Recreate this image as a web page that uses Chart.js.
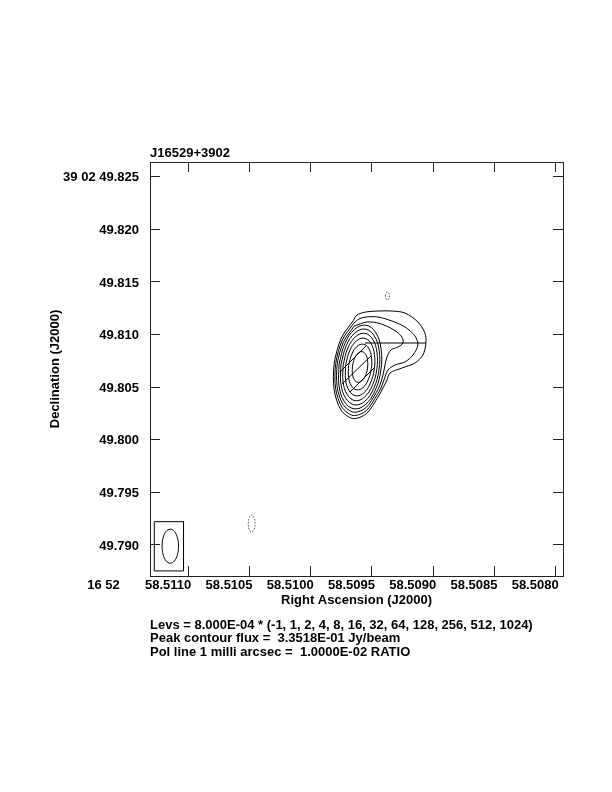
<!DOCTYPE html>
<html>
<head>
<meta charset="utf-8">
<title>J16529+3902</title>
<script src="https://cdn.jsdelivr.net/npm/chart.js@4.4.1/dist/chart.umd.min.js"></script>
<style>
  html, body { margin: 0; padding: 0; background: #fff; }
  #wrap { width: 612px; height: 792px; }
</style>
</head>
<body>
<div id="wrap"><canvas id="map" width="612" height="792"></canvas></div>
<script>
// Map reference position (RA seconds of 16h52m, Dec arcsec of +39d02m)
const refRA = 58.509598;
const refDec = 49.806916;
const decDeg = 39 + 2 / 60 + 49.8 / 3600;

const raMin = 58.507940;
const raMax = 58.511313;
const decMin = 49.787054;
const decMax = 49.826397;

const raTicks = [58.5110, 58.5105, 58.5100, 58.5095, 58.5090, 58.5085, 58.5080];
const raLabels = ['16 52       58.5110', '58.5105', '58.5100', '58.5095', '58.5090', '58.5085', '58.5080'];
const decTicks = [49.790, 49.795, 49.800, 49.805, 49.810, 49.815, 49.820, 49.825];
const decLabels = ['49.790', '49.795', '49.800', '49.805', '49.810', '49.815', '49.820', '39 02 49.825'];

const sourceName = 'J16529+3902';
const levelBase = '8.000E-04';
const levelMults = [-1, 1, 2, 4, 8, 16, 32, 64, 128, 256, 512, 1024];
const peakFlux = '3.3518E-01';
const polScale = '1.0000E-02';

// Contours as [east offset mas, north offset mas] from the reference position
const cntr1 = [[0.63, 4.42], [1.78, 2.75], [2.45, 0.34], [2.46, -2.16], [1.82, -4.07], [0.69, -4.90],
  [-0.63, -4.42], [-1.78, -2.75], [-2.19, -1.99], [-2.57, -1.24], [-2.85, -0.57], [-3.99, -0.10],
  [-5.23, 0.38], [-5.99, 1.14], [-6.27, 2.28], [-6.18, 3.23], [-5.51, 4.28], [-4.28, 5.13],
  [-3.04, 5.32], [-1.71, 5.32], [-0.57, 5.23], [0.29, 4.94]];
const cntr2 = [[0.59, 4.16], [1.67, 2.59], [2.31, 0.32], [2.32, -2.03], [1.71, -3.83], [0.65, -4.61],
  [-0.59, -4.16], [-1.67, -2.59], [-2.00, -1.99], [-2.28, -1.24], [-2.66, -0.29], [-3.33, 0.19],
  [-4.28, 0.48], [-5.04, 1.14], [-5.51, 2.09], [-5.23, 2.95], [-4.28, 3.80], [-3.04, 4.37],
  [-1.71, 4.75], [-0.57, 4.75], [0.10, 4.56]];
const cntr4 = [[0.56, 3.88], [1.56, 2.41], [2.16, 0.30], [2.17, -1.89], [1.60, -3.57], [0.60, -4.30],
  [-0.56, -3.88], [-1.56, -2.41], [-1.90, -1.71], [-2.19, -0.76], [-2.38, 0.19], [-2.57, 0.95],
  [-2.95, 1.62], [-3.61, 1.90], [-4.09, 2.28], [-3.99, 2.85], [-3.23, 3.52], [-1.90, 4.13], [-0.67, 4.28]];
const cntr8 = [[1.99, 0.28], [2.00, -1.74], [1.48, -3.30], [0.56, -3.97], [-0.51, -3.58], [-1.44, -2.23],
  [-1.99, -0.28], [-2.00, 1.74], [-1.48, 3.30], [-0.56, 3.97], [0.51, 3.58], [1.44, 2.23]];
const cntr16 = [[1.81, 0.25], [1.82, -1.58], [1.34, -2.99], [0.51, -3.60], [-0.47, -3.25], [-1.31, -2.02],
  [-1.81, -0.25], [-1.82, 1.58], [-1.34, 2.99], [-0.51, 3.60], [0.47, 3.25], [1.31, 2.02]];
const cntr32 = [[1.60, 0.22], [1.61, -1.41], [1.19, -2.66], [0.45, -3.20], [-0.41, -2.88], [-1.16, -1.79],
  [-1.60, -0.22], [-1.61, 1.41], [-1.19, 2.66], [-0.45, 3.20], [0.41, 2.88], [1.16, 1.79]];
const cntr64 = [[1.36, 0.19], [1.37, -1.20], [1.02, -2.28], [0.38, -2.74], [-0.35, -2.47], [-0.99, -1.53],
  [-1.36, -0.19], [-1.37, 1.20], [-1.02, 2.28], [-0.38, 2.74], [0.35, 2.47], [0.99, 1.53]];
const cntr128 = [[1.08, 0.15], [1.09, -0.96], [0.81, -1.81], [0.31, -2.17], [-0.28, -1.96], [-0.78, -1.22],
  [-1.08, -0.15], [-1.09, 0.96], [-0.81, 1.81], [-0.31, 2.17], [0.28, 1.96], [0.78, 1.22]];
const cntr256 = [[0.72, 0.10], [0.72, -0.64], [0.54, -1.21], [0.21, -1.46], [-0.18, -1.31], [-0.52, -0.82],
  [-0.72, -0.10], [-0.72, 0.64], [-0.54, 1.21], [-0.21, 1.46], [0.18, 1.31], [0.52, 0.82]];

// Negative (-1) contours
const negA = [[-2.42, 6.75], [-2.48, 7.02], [-2.61, 7.13], [-2.74, 7.02], [-2.80, 6.75], [-2.74, 6.48], [-2.61, 6.37], [-2.48, 6.48]];
const negB = [[10.64, -14.87], [10.54, -14.30], [10.31, -14.06], [10.08, -14.30], [9.98, -14.87], [10.08, -15.44], [10.31, -15.68], [10.54, -15.44]];

// Polarisation vectors
const polVectors = [
  [[-0.48, 2.28], [-6.27, 2.28]],
  [[1.90, -0.48], [-0.57, 2.00]],
  [[1.71, -1.62], [-1.05, 1.05]],
  [[0.95, -2.38], [-1.43, 0.00]]
];

// Restoring beam and its box
const beam = [[18.84, -17.03], [18.73, -16.22], [18.45, -15.63], [18.05, -15.41], [17.66, -15.63], [17.37, -16.22],
  [17.26, -17.03], [17.37, -17.84], [17.66, -18.43], [18.05, -18.65], [18.45, -18.43], [18.73, -17.84]];
const beamBox = [[19.57, -14.70], [16.79, -14.70], [16.79, -19.38], [19.57, -19.38], [19.57, -14.70]];

const masPerSecRA = 15000 * Math.cos(decDeg * Math.PI / 180);
const toSky = pts => pts.map(p => ({ x: refRA + p[0] / masPerSecRA, y: refDec + p[1] / 1000 }));
const closeLoop = pts => pts.concat([pts[0]]);

const fontFamily = "'Liberation Sans', Arial, Helvetica, sans-serif";
const labelFont = { family: fontFamily, size: 13, weight: 'bold' };

function lineSet(pts, extra) {
  return Object.assign({
    data: toSky(pts),
    showLine: true,
    borderColor: '#000',
    borderWidth: 1,
    pointRadius: 0,
    fill: false,
    tension: 0
  }, extra || {});
}

const datasets = [];
[cntr1, cntr2, cntr4].forEach(c => datasets.push(lineSet(closeLoop(c), { tension: 0.3 })));
[cntr8, cntr16, cntr32, cntr64, cntr128, cntr256].forEach(c => datasets.push(lineSet(closeLoop(c), { tension: 0.4 })));
[negA, negB].forEach(c => datasets.push(lineSet(closeLoop(c), { tension: 0.4, borderColor: '#555', borderDash: [1.5, 1.5] })));
polVectors.forEach(v => datasets.push(lineSet(v)));
datasets.push(lineSet(closeLoop(beam), { tension: 0.4 }));
datasets.push(lineSet(beamBox));

const noteLines = [
  'Levs = ' + levelBase + ' * (' + levelMults.join(', ') + ')',
  'Peak contour flux =  ' + peakFlux + ' Jy/beam',
  'Pol line 1 milli arcsec =  ' + polScale + ' RATIO'
];

// Title above the frame and notes under the axis
const textPlugin = {
  id: 'mapText',
  afterDraw(chart) {
    const { ctx, chartArea } = chart;
    ctx.save();
    ctx.fillStyle = '#000';
    ctx.font = 'bold 13px ' + fontFamily;
    ctx.textAlign = 'left';
    ctx.textBaseline = 'middle';
    ctx.fillText(sourceName, chartArea.left, chartArea.top - 9);
    noteLines.forEach((t, i) => ctx.fillText(t, chartArea.left, chartArea.bottom + 49 + i * 13.5));
    ctx.restore();
  }
};

const gridOpts = { drawOnChartArea: false, drawTicks: true, tickLength: -10, color: '#222', lineWidth: 1 };
const borderOpts = { display: true, color: '#222', width: 1 };

new Chart(document.getElementById('map'), {
  type: 'scatter',
  data: { datasets },
  options: {
    responsive: false,
    animation: false,
    devicePixelRatio: 1,
    layout: { padding: 0 },
    plugins: { legend: { display: false }, tooltip: { enabled: false } },
    scales: {
      x: {
        type: 'linear', position: 'bottom', reverse: true, bounds: 'data', min: raMin, max: raMax,
        afterBuildTicks: s => { s.ticks = raTicks.map(v => ({ value: v })); },
        afterFit: s => { s.height = 216; },
        ticks: { autoSkip: false, minRotation: 0, maxRotation: 0, align: 'end', labelOffset: 3, padding: 12,
          color: '#000', font: labelFont, callback: (v, i) => raLabels[i] },
        grid: gridOpts, border: borderOpts,
        title: { display: true, text: 'Right Ascension (J2000)', color: '#000', font: labelFont, padding: { top: 0, bottom: 184 } }
      },
      x2: {
        type: 'linear', position: 'top', reverse: true, bounds: 'data', min: raMin, max: raMax,
        afterBuildTicks: s => { s.ticks = raTicks.map(v => ({ value: v })); },
        afterFit: s => { s.height = 162; },
        ticks: { display: false }, grid: gridOpts, border: borderOpts
      },
      y: {
        type: 'linear', position: 'left', bounds: 'data', min: decMin, max: decMax,
        afterBuildTicks: s => { s.ticks = decTicks.map(v => ({ value: v })); },
        afterFit: s => { s.width = 150; },
        ticks: { autoSkip: false, padding: 21, labelOffset: 1, color: '#000', font: labelFont, callback: (v, i) => decLabels[i] },
        grid: gridOpts, border: borderOpts,
        title: { display: true, text: 'Declination (J2000)', color: '#000', font: labelFont, padding: { top: 48, bottom: 0 } }
      },
      y2: {
        type: 'linear', position: 'right', bounds: 'data', min: decMin, max: decMax,
        afterBuildTicks: s => { s.ticks = decTicks.map(v => ({ value: v })); },
        afterFit: s => { s.width = 49; },
        ticks: { display: false }, grid: gridOpts, border: borderOpts
      }
    }
  },
  plugins: [textPlugin]
});
</script>
</body>
</html>
